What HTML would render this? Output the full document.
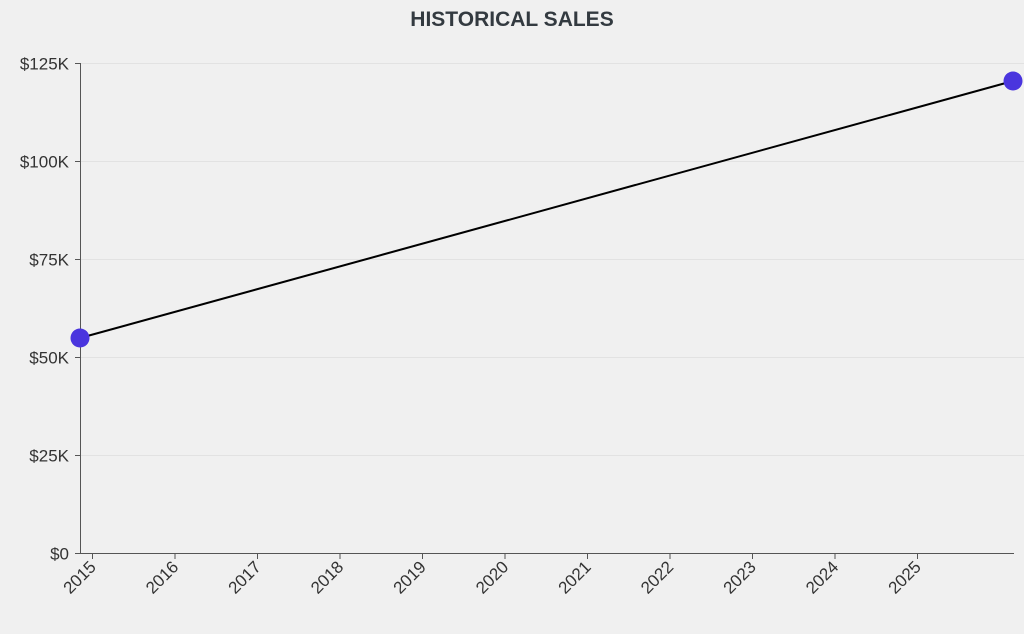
<!DOCTYPE html>
<html><head><style>
html,body{margin:0;padding:0;background:#f0f0f0;}
svg{display:block;font-family:"Liberation Sans",sans-serif;}
</style></head><body>
<svg width="1024" height="634" viewBox="0 0 1024 634">
<rect width="1024" height="634" fill="#f0f0f0"/>
<text x="512" y="26" text-anchor="middle" font-size="21" font-weight="bold" fill="#333a40">HISTORICAL SALES</text>
<g stroke="#e2e2e2" stroke-width="1">
<line x1="80" x2="1024" y1="63.5" y2="63.5"/>
<line x1="80" x2="1024" y1="161.5" y2="161.5"/>
<line x1="80" x2="1024" y1="259.5" y2="259.5"/>
<line x1="80" x2="1024" y1="357.5" y2="357.5"/>
<line x1="80" x2="1024" y1="455.5" y2="455.5"/>
</g>
<g stroke="#555" stroke-width="1">
<line x1="80.5" x2="80.5" y1="63" y2="554"/>
<line x1="80" x2="1014" y1="553.5" y2="553.5"/>
<line x1="75" x2="80" y1="63.5" y2="63.5"/>
<line x1="75" x2="80" y1="161.5" y2="161.5"/>
<line x1="75" x2="80" y1="259.5" y2="259.5"/>
<line x1="75" x2="80" y1="357.5" y2="357.5"/>
<line x1="75" x2="80" y1="455.5" y2="455.5"/>
<line x1="75" x2="80" y1="553.5" y2="553.5"/>
</g>
<g font-size="17" fill="#333" text-anchor="end">
<text x="69" y="69.5">$125K</text>
<text x="69" y="167.5">$100K</text>
<text x="69" y="265.5">$75K</text>
<text x="69" y="363.5">$50K</text>
<text x="69" y="461.5">$25K</text>
<text x="69" y="559.5">$0</text>
</g>
<g font-size="17" fill="#333" text-anchor="end">
<line x1="92.5" x2="92.5" y1="553" y2="559" stroke="#555"/><text transform="translate(97,568) rotate(-45)">2015</text>
<line x1="175" x2="175" y1="553" y2="559" stroke="#555"/><text transform="translate(179.5,568) rotate(-45)">2016</text>
<line x1="257.5" x2="257.5" y1="553" y2="559" stroke="#555"/><text transform="translate(262,568) rotate(-45)">2017</text>
<line x1="340" x2="340" y1="553" y2="559" stroke="#555"/><text transform="translate(344.5,568) rotate(-45)">2018</text>
<line x1="422.5" x2="422.5" y1="553" y2="559" stroke="#555"/><text transform="translate(427,568) rotate(-45)">2019</text>
<line x1="505" x2="505" y1="553" y2="559" stroke="#555"/><text transform="translate(509.5,568) rotate(-45)">2020</text>
<line x1="587.5" x2="587.5" y1="553" y2="559" stroke="#555"/><text transform="translate(592,568) rotate(-45)">2021</text>
<line x1="670" x2="670" y1="553" y2="559" stroke="#555"/><text transform="translate(674.5,568) rotate(-45)">2022</text>
<line x1="752.5" x2="752.5" y1="553" y2="559" stroke="#555"/><text transform="translate(757,568) rotate(-45)">2023</text>
<line x1="835" x2="835" y1="553" y2="559" stroke="#555"/><text transform="translate(839.5,568) rotate(-45)">2024</text>
<line x1="917.5" x2="917.5" y1="553" y2="559" stroke="#555"/><text transform="translate(922,568) rotate(-45)">2025</text>
</g>
<line x1="80" y1="338" x2="1013" y2="81" stroke="#000" stroke-width="2"/>
<circle cx="80" cy="338" r="9.5" fill="#4a35de"/>
<circle cx="1013" cy="81" r="9.5" fill="#4a35de"/>
</svg>
</body></html>
